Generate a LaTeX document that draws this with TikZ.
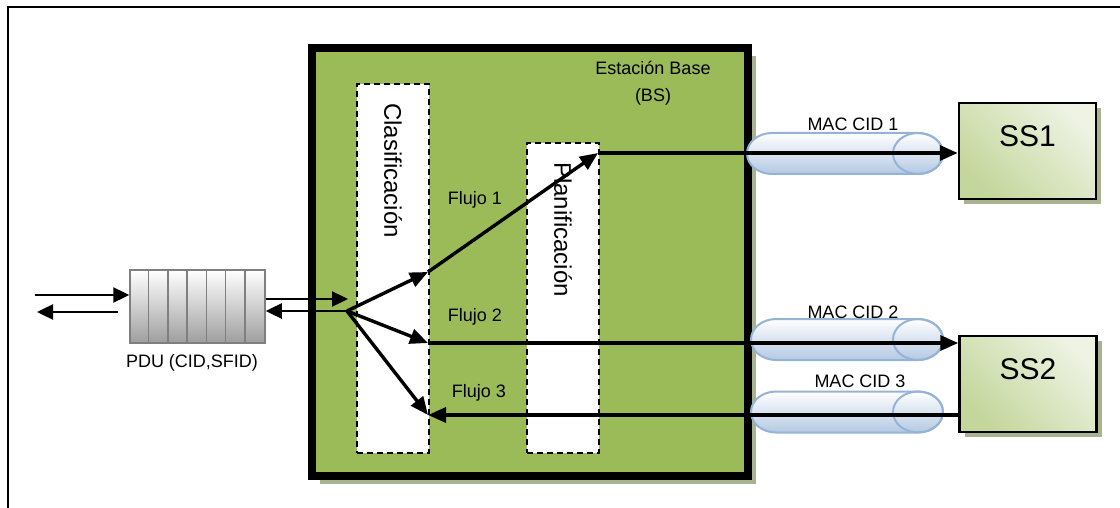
\documentclass[tikz,border=0pt]{standalone}
\usepackage{fontspec}
\setmainfont{Liberation Sans}
\usetikzlibrary{arrows.meta,shadows}

\definecolor{bsgreen}{HTML}{9BBB59}
\definecolor{bsshadow}{HTML}{A9B38F}
\definecolor{sslight}{HTML}{EEF3E3}
\definecolor{ssdark}{HTML}{C3D69B}
\definecolor{tubeline}{HTML}{95B3D7}
\definecolor{tubefill}{HTML}{B4C9E3}
\definecolor{pduline}{HTML}{7F7F7F}

\tikzset{
  lbl/.style={font=\fontsize{18}{27}\selectfont, inner sep=0pt},
  stagebox/.style={draw, fill=white, line width=1.3pt, dash pattern=on 6pt off 4pt,
    minimum width=72pt, inner sep=0pt},
  stagetxt/.style={font=\fontsize{24}{28}\selectfont, rotate=-90, anchor=west, inner sep=0pt},
  ssbox/.style={draw, line width=2.5pt, top color=sslight, bottom color=ssdark, shading angle=-45,
    drop shadow={shadow xshift=5pt, shadow yshift=-5pt, fill=bsshadow, opacity=1},
    minimum width=137pt, minimum height=96pt, inner sep=0pt, text depth=30pt,
    font=\fontsize{30}{36}\selectfont},
  tube/.style={draw=tubeline, line width=2pt, top color=white, bottom color=tubefill},
  flow/.style={line width=3.4pt, -{Triangle[length=18pt,width=15pt]}},
  thinarr/.style={line width=2.4pt, -{Triangle[length=16pt,width=15pt]}}
}

\begin{document}
\begin{tikzpicture}[x=1pt, y=-1pt]
  \useasboundingbox (0,0) rectangle (1120,508);
  % outer frame
  \draw[line width=2pt] (1130,7.5) -- (7.5,7.5) -- (7.5,520);

  % base station
  \node[draw, line width=8pt, fill=bsgreen, minimum width=436pt, minimum height=428pt, inner sep=0pt,
    drop shadow={shadow xshift=8pt, shadow yshift=-8pt, fill=bsshadow, opacity=1}] (bs) at (530,262) {};
  \node[lbl, align=center] (bslbl) at (653,83) {Estación Base\\(BS)};
  \node[stagebox, minimum height=369pt] (clas) at (393,268.5) {};
  \node[stagebox, minimum height=310pt] (plan) at (563,298) {};
  \node[stagetxt] (clastxt) at (393,103) {Clasificación};
  \node[stagetxt] (plantxt) at (563,162) {Planificación};

  \node[lbl] (flujo1) at (475,200) {Flujo 1};
  \node[lbl] (flujo2) at (475,317) {Flujo 2};
  \node[lbl] (flujo3) at (479,393) {Flujo 3};

  % connections (tubes)
  \foreach \x/\y/\n in {747/153.5/1, 751/339.5/2, 751/412/3} {
    \path[tube] (\x+25,\y-20.5) -- (918,\y-20.5)
      arc[start angle=-90, end angle=90, x radius=25, y radius=20.5]
      -- (\x+25,\y+20.5)
      arc[start angle=90, end angle=270, x radius=25, y radius=20.5] -- cycle;
    \draw[tubeline, line width=2pt] (918,\y) ellipse[x radius=25, y radius=20.5];
  }
  \node[lbl] (cid1) at (853,124) {MAC CID 1};
  \node[lbl] (cid2) at (853,312) {MAC CID 2};
  \node[lbl] (cid3) at (860,381) {MAC CID 3};

  % subscriber stations
  \node[ssbox] (ss1) at (1027.5,151) {SS1};
  \node[ssbox] (ss2) at (1028,384) {SS2};

  % queue
  \node[draw=pduline, line width=1.5pt, top color=white, bottom color=black!38,
    minimum width=135pt, minimum height=73pt, inner sep=0pt] (pdu) at (197.5,306.5) {};
  \foreach \i in {1,...,6}
    \draw[pduline, line width=1.5pt] ([xshift=\i*19.2857pt]pdu.north west)
      -- ([xshift=\i*19.2857pt]pdu.south west);
  \node[lbl] (pdulbl) at (192,363) {PDU (CID,SFID)};

  % arrows
  \coordinate (inL) at (35,295);
  \coordinate (outLa) at (118,312);
  \coordinate (outLb) at (37,312);
  \coordinate (inR) at (348,299);
  \coordinate (fork) at (347,311);
  \coordinate (f1) at (428,272);
  \coordinate (f2) at (428,343);
  \coordinate (f3) at (428,415);
  \coordinate (p1) at (598,153);

  \draw[thinarr] (inL) -- (inL -| pdu.west);
  \draw[thinarr] (outLa) -- (outLb);
  \draw[thinarr] (inR -| pdu.east) -- (inR);
  \draw[thinarr] (fork) -- (fork -| pdu.east);

  \draw[flow] (fork) -- (f1);
  \draw[flow] (f1) -- (p1);
  \draw[flow] (p1) -- (p1 -| ss1.west);
  \draw[flow] (fork) -- (f2);
  \draw[flow] (f2) -- (f2 -| ss2.west);
  \draw[flow] (fork) -- (f3);
  \draw[flow] (f3 -| ss2.west) -- (f3);
\end{tikzpicture}
\end{document}
